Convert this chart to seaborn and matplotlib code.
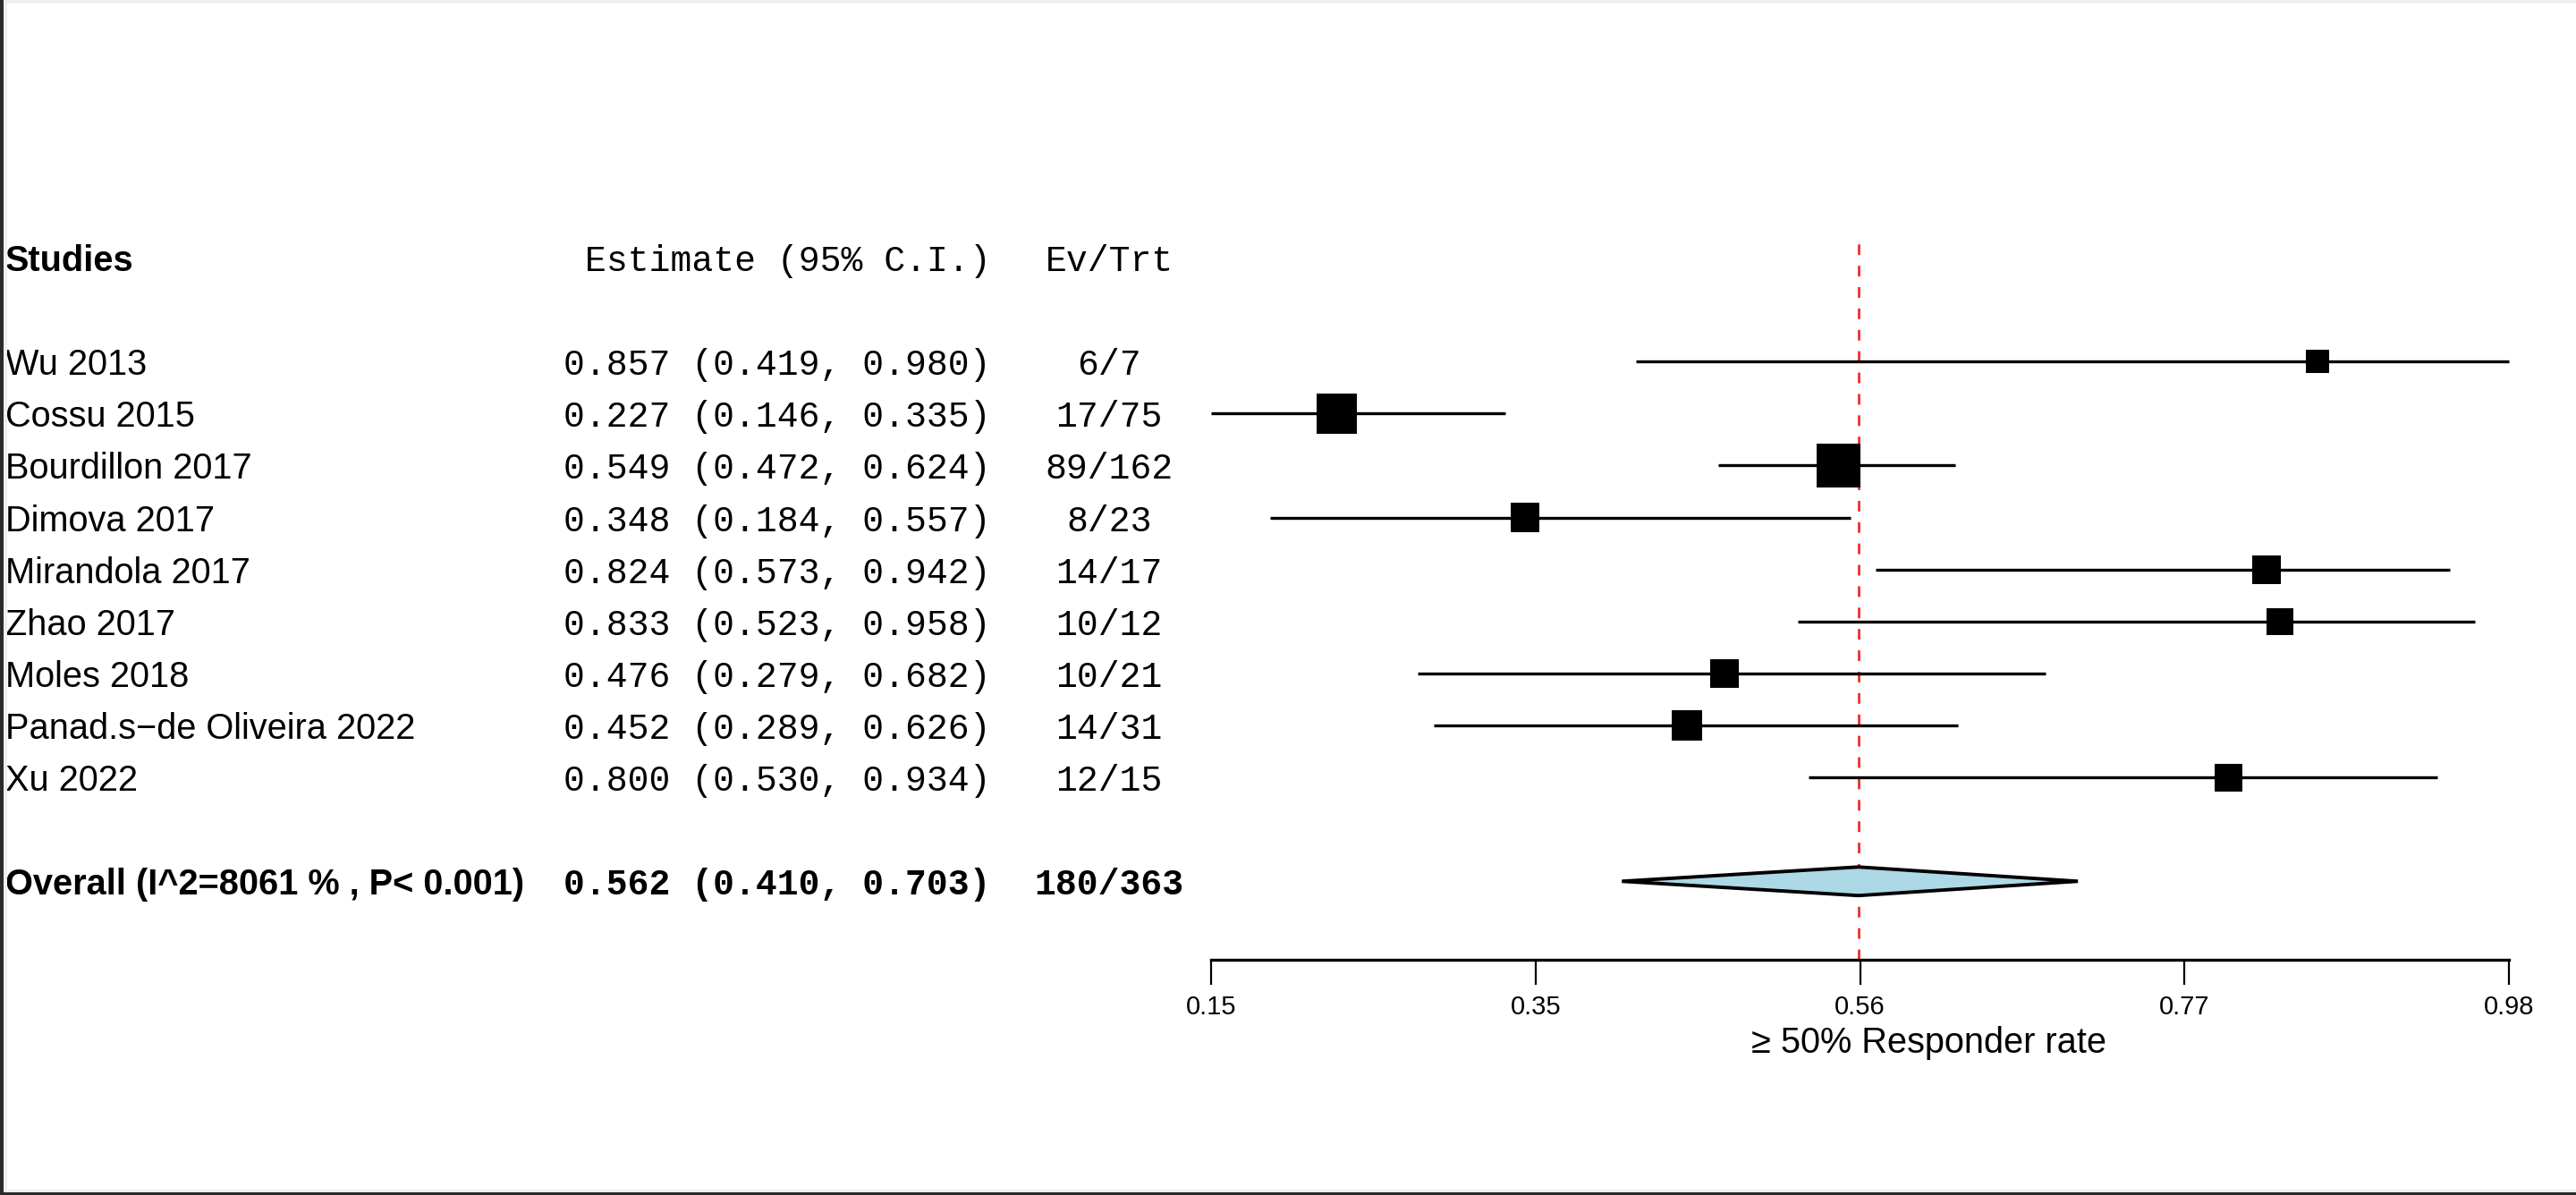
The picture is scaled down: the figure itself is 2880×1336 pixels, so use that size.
import numpy as np
import pandas as pd
import matplotlib
matplotlib.use("Agg")
import matplotlib.pyplot as plt
import matplotlib.transforms as mtransforms
from matplotlib.patches import Rectangle
import seaborn as sns

# -----------------------------
# 1) Data
# -----------------------------
studies = ["Wu 2013", "Cossu 2015", "Bourdillon 2017", "Dimova 2017", "Mirandola 2017",
           "Zhao 2017", "Moles 2018", "Panad.s\u2212de Oliveira 2022", "Xu 2022"]
estimate = [0.857, 0.227, 0.549, 0.348, 0.824, 0.833, 0.476, 0.452, 0.800]
ci_low = [0.419, 0.146, 0.472, 0.184, 0.573, 0.523, 0.279, 0.289, 0.530]
ci_high = [0.980, 0.335, 0.624, 0.557, 0.942, 0.958, 0.682, 0.626, 0.934]
events = [6, 17, 89, 8, 14, 10, 10, 14, 12]
totals = [7, 75, 162, 23, 17, 12, 21, 31, 15]
weights = [6.0, 18.1, 21.5, 9.2, 9.2, 8.0, 9.2, 10.3, 8.6]  # study weight (%), box area ~ weight

overall_label = "Overall (I^2=8061 % , P< 0.001)"
overall_est, overall_low, overall_high = 0.562, 0.410, 0.703
axis_min, axis_max = 0.146, 0.980
x_label = "\u2265 50% Responder rate"
col_headers = ["Studies", "Estimate (95% C.I.)", "Ev/Trt"]

# -----------------------------
# 2) Build table
# -----------------------------
n = len(studies)
df = pd.DataFrame({
    "study": studies,
    "estimate": estimate,
    "ci_low": ci_low,
    "ci_high": ci_high,
    "events": events,
    "totals": totals,
    "weight": weights,
})
df["row"] = np.arange(1, n + 1)
df["ci_text"] = [f"{e:.3f} ({l:.3f}, {h:.3f})" for e, l, h in zip(estimate, ci_low, ci_high)]
df["evtrt"] = [f"{e}/{t}" for e, t in zip(events, totals)]
overall_row = n + 2
header_row = -1

# -----------------------------
# 3) Figure
# -----------------------------
sns.set_theme(style="white")
plt.rcParams["font.family"] = ["Liberation Sans", "DejaVu Sans"]
plt.rcParams["text.color"] = "black"
plt.rcParams["axes.labelcolor"] = "black"
MONO = ["Liberation Mono", "DejaVu Sans Mono"]
FS = 14.3

W, H, DPI = 2880, 1336, 200
fig = plt.figure(figsize=(W / DPI, H / DPI), dpi=DPI)
fig.patch.set_facecolor("white")
ax = fig.add_axes([1354 / W, 1 - 1073 / H, (2805 - 1354) / W, (1073 - 263) / H])

# reference line at pooled estimate
ax.axvline(overall_est, color="#e8322a", lw=1.0, dashes=(4.3, 4.3), zorder=1)

# confidence intervals
ax.hlines(df["row"], df["ci_low"], df["ci_high"], color="black", lw=1.2, zorder=2, clip_on=False)

# weighted boxes
box_area_max = (49 * 72 / DPI) ** 2
sns.scatterplot(data=df, x="estimate", y="row", size="weight",
                sizes=(0, box_area_max), size_norm=(0, max(weights)),
                marker="s", color="black", linewidth=0, legend=False,
                ax=ax, zorder=3, clip_on=False)

# pooled diamond
dh = 0.275
ax.fill([overall_low, overall_est, overall_high, overall_est],
        [overall_row, overall_row - dh, overall_row, overall_row + dh],
        facecolor="#add8e6", edgecolor="black", lw=1.4, zorder=4, clip_on=False)

ax.set_xlim(axis_min, axis_max)
ax.set_ylim(n + 3.51, -1.43)
ticks = np.linspace(axis_min, axis_max, 5)
ax.set_xticks(ticks)
ax.set_xticklabels([f"{t:.2f}" for t in ticks])
ax.set_yticks([])
ax.set_ylabel("")
ax.tick_params(axis="x", bottom=True, direction="out", length=9.9, width=0.8,
               pad=4, labelsize=10.5, colors="black")
sns.despine(ax=ax, left=True)
ax.spines["bottom"].set_color("black")
ax.spines["bottom"].set_linewidth(1.2)
ax.set_xlabel(x_label, fontsize=FS, color="black")
ax.xaxis.set_label_coords((2157 - 1354) / (2805 - 1354), -(1166 - 1073) / (1073 - 263))
ax.xaxis.label.set_va("center")

# -----------------------------
# 4) Text columns
# -----------------------------
trans = mtransforms.blended_transform_factory(fig.transFigure, ax.transData)
x_name, x_ci, x_ev = 6 / W, 1108 / W, 1240 / W

ax.text(x_name, header_row, col_headers[0], transform=trans, fontsize=FS,
        fontweight="bold", ha="left", va="center_baseline")
ax.text(x_ci, header_row, col_headers[1], transform=trans, fontsize=FS,
        family=MONO, ha="right", va="center_baseline")
ax.text(x_ev, header_row, col_headers[2], transform=trans, fontsize=FS,
        family=MONO, ha="center", va="center_baseline")

for _, r in df.iterrows():
    ax.text(x_name, r["row"], r["study"], transform=trans, fontsize=FS,
            ha="left", va="center_baseline")
    ax.text(x_ci, r["row"], r["ci_text"], transform=trans, fontsize=FS,
            family=MONO, ha="right", va="center_baseline")
    ax.text(x_ev, r["row"], r["evtrt"], transform=trans, fontsize=FS,
            family=MONO, ha="center", va="center_baseline")

ax.text(x_name, overall_row, overall_label, transform=trans, fontsize=FS,
        fontweight="bold", ha="left", va="center_baseline")
ax.text(x_ci, overall_row, f"{overall_est:.3f} ({overall_low:.3f}, {overall_high:.3f})",
        transform=trans, fontsize=FS, family=MONO, fontweight="bold",
        ha="right", va="center_baseline")
ax.text(x_ev, overall_row, f"{sum(events)}/{sum(totals)}", transform=trans,
        fontsize=FS, family=MONO, fontweight="bold", ha="center", va="center_baseline")

# window edges of the original screenshot
fig.add_artist(Rectangle((0, 1 - 4 / H), 1, 4 / H, transform=fig.transFigure,
                         color="#efefef", lw=0))
fig.add_artist(Rectangle((4 / W, 3 / H), 4 / W, 1, transform=fig.transFigure,
                         color="#efefef", lw=0))
fig.add_artist(Rectangle((0, 3 / H), 1, 3 / H, transform=fig.transFigure,
                         color="#efefef", lw=0))
fig.add_artist(Rectangle((0, 0), 4 / W, 1, transform=fig.transFigure,
                         color="#2b2b2b", lw=0))
fig.add_artist(Rectangle((0, 0), 1, 3 / H, transform=fig.transFigure,
                         color="#2b2b2b", lw=0))

fig.savefig("out.png", dpi=DPI, facecolor="white")
